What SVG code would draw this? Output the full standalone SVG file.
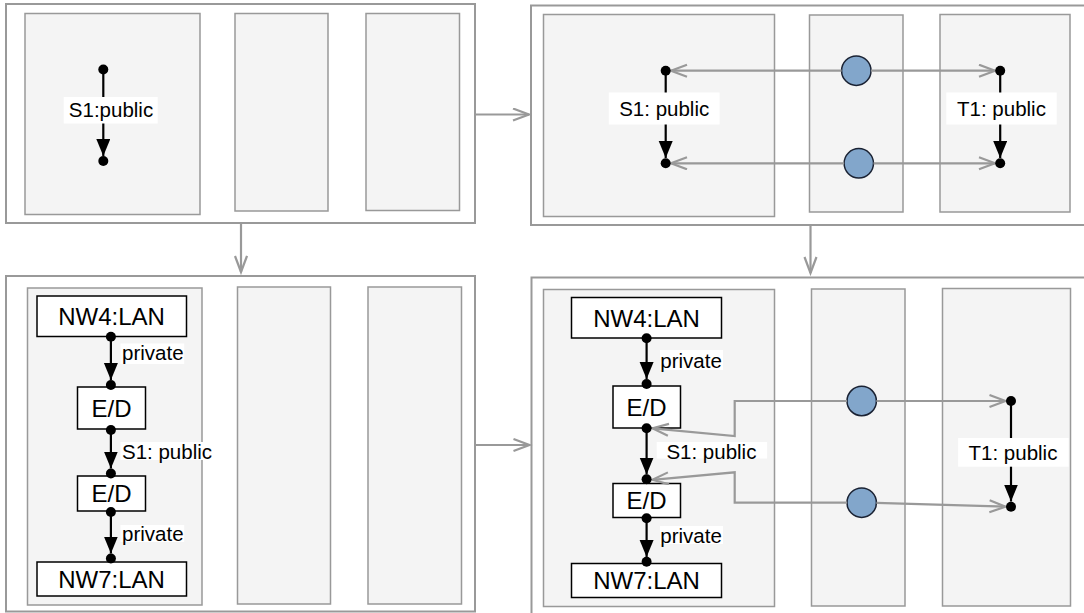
<svg xmlns="http://www.w3.org/2000/svg" width="1084" height="613" viewBox="0 0 1084 613">
<defs>
<marker id="ah" markerUnits="userSpaceOnUse" markerWidth="20" markerHeight="16" refX="17" refY="7" orient="auto"><path d="M0,0 L17,7 L0,14 z" fill="#000"/></marker>
<marker id="go" markerUnits="userSpaceOnUse" markerWidth="22" markerHeight="16" refX="17" refY="7" orient="auto"><path d="M1,1 L17,7 L1,13" fill="none" stroke="#999" stroke-width="2.2"/></marker>
</defs>
<style>
.outer{fill:#fff;stroke:#999;stroke-width:2}
.panel{fill:#f4f4f4;stroke:#999;stroke-width:1.5}
.box{fill:#fff;stroke:#000;stroke-width:1.5}
.bt{font-family:"Liberation Sans",Arial,sans-serif;font-size:24px;fill:#000;text-anchor:middle;dominant-baseline:central}
.lt{font-family:"Liberation Sans",Arial,sans-serif;font-size:20.5px;fill:#000;dominant-baseline:central}
.lbg{fill:#fff}
.bl{stroke:#000;stroke-width:2.2;fill:none;marker-end:url(#ah)}
.gl{stroke:#999;stroke-width:2.2;fill:none;marker-end:url(#go)}
.dot{fill:#000}
.circ{fill:#82a6cb;stroke:#1a2233;stroke-width:1.5}
</style>
<g id="frame-tl">
<rect class="outer" x="6" y="4" width="469" height="219"/>
<rect class="panel" x="25" y="13.5" width="175" height="201"/>
<rect class="panel" x="235" y="13.5" width="93" height="197.5"/>
<rect class="panel" x="366" y="13.5" width="93.5" height="197"/>
</g>
<g id="frame-tr">
<rect class="outer" x="531" y="5.5" width="570" height="219.5"/>
<rect class="panel" x="543.5" y="14.5" width="231" height="202"/>
<rect class="panel" x="809.5" y="15" width="93.5" height="197"/>
<rect class="panel" x="940" y="14.5" width="130" height="197.5"/>
</g>
<g id="frame-bl">
<rect class="outer" x="6" y="276" width="469" height="335.5"/>
<rect class="panel" x="27.5" y="288" width="174.5" height="317"/>
<rect class="panel" x="237.5" y="287" width="93" height="317"/>
<rect class="panel" x="368" y="287" width="93.5" height="317"/>
</g>
<g id="frame-br">
<rect class="outer" x="531.5" y="277.5" width="570" height="350"/>
<rect class="panel" x="543.5" y="289.5" width="231" height="317"/>
<rect class="panel" x="811.5" y="289" width="93.5" height="317"/>
<rect class="panel" x="942.5" y="288.5" width="128" height="317.5"/>
</g>
<g id="bl-nw4"><rect class="box" x="37" y="296" width="149.5" height="40.5"/><text class="bt" x="111.5" y="316.5">NW4:LAN</text></g>
<g id="bl-ed1"><rect class="box" x="77.5" y="387" width="68" height="42"/><text class="bt" x="111.5" y="408.5">E/D</text></g>
<g id="bl-ed2"><rect class="box" x="77.5" y="476" width="68" height="35"/><text class="bt" x="111.5" y="493.5">E/D</text></g>
<g id="bl-nw7"><rect class="box" x="37" y="562" width="149.5" height="34"/><text class="bt" x="111.5" y="579">NW7:LAN</text></g>
<g id="br-nw4"><rect class="box" x="571.5" y="297.5" width="150" height="40.5"/><text class="bt" x="646.5" y="318">NW4:LAN</text></g>
<g id="br-ed1"><rect class="box" x="613" y="386" width="67.5" height="42"/><text class="bt" x="646.5" y="407.5">E/D</text></g>
<g id="br-ed2"><rect class="box" x="613" y="483.5" width="67.5" height="34"/><text class="bt" x="646.5" y="500.5">E/D</text></g>
<g id="br-nw7"><rect class="box" x="571.5" y="563.5" width="150" height="34"/><text class="bt" x="646.5" y="580.5">NW7:LAN</text></g>
<g id="tr-c1"><circle class="circ" cx="856.3" cy="70.7" r="14.7"/></g>
<g id="tr-c2"><circle class="circ" cx="858.8" cy="163.3" r="14.7"/></g>
<g id="br-c1"><circle class="circ" cx="861.7" cy="401" r="14.7"/></g>
<g id="br-c2"><circle class="circ" cx="861.7" cy="502.7" r="14.7"/></g>
<g id="connectors">
<line class="gl" x1="475" y1="114.5" x2="529" y2="114.5"/>
<line class="gl" x1="241" y1="223" x2="241" y2="272"/>
<line class="gl" x1="810.5" y1="225" x2="810.5" y2="273"/>
<line class="gl" x1="475" y1="445" x2="529.5" y2="445"/>
<line class="bl" x1="103.3" y1="69.5" x2="103.3" y2="156"/>
<line class="bl" x1="665.7" y1="70.7" x2="665.7" y2="158"/>
<line class="bl" x1="1000.2" y1="70.7" x2="1000.2" y2="158"/>
<line class="gl" x1="841.6" y1="70.7" x2="671" y2="70.7"/>
<line class="gl" x1="871" y1="70.7" x2="995" y2="70.7"/>
<line class="gl" x1="844.1" y1="163.3" x2="671" y2="163.3"/>
<line class="gl" x1="873.5" y1="163.3" x2="995" y2="163.3"/>
<line class="bl" x1="110.9" y1="336.5" x2="110.9" y2="380"/>
<line class="bl" x1="110.9" y1="430" x2="110.9" y2="468.5"/>
<line class="bl" x1="110.9" y1="512" x2="110.9" y2="553.5"/>
<line class="bl" x1="646.6" y1="338.3" x2="646.6" y2="379"/>
<line class="bl" x1="646.6" y1="428.3" x2="646.6" y2="474.5"/>
<line class="bl" x1="646.6" y1="518.3" x2="646.6" y2="557"/>
<line class="bl" x1="1011" y1="401" x2="1011" y2="501.5"/>
<polyline class="gl" points="847,401 734.7,401 734.7,436 652.5,428.3"/>
<polyline class="gl" points="847,502.7 734.7,502.7 734.7,472.3 652.5,479.8"/>
<line class="gl" x1="876.4" y1="401" x2="1005.5" y2="401"/>
<line class="gl" x1="876.4" y1="502.9" x2="1005.5" y2="506.7"/>
</g>
<g id="dots">
<circle class="dot" cx="103.3" cy="69.5" r="5"/>
<circle class="dot" cx="103.3" cy="161" r="5"/>
<circle class="dot" cx="665.7" cy="70.7" r="5"/>
<circle class="dot" cx="665.7" cy="163.3" r="5"/>
<circle class="dot" cx="1000.2" cy="70.7" r="5"/>
<circle class="dot" cx="1000.2" cy="163.3" r="5"/>
<circle class="dot" cx="110.9" cy="336.7" r="5"/>
<circle class="dot" cx="110.9" cy="385" r="5"/>
<circle class="dot" cx="110.9" cy="430" r="5"/>
<circle class="dot" cx="110.9" cy="473.5" r="5"/>
<circle class="dot" cx="110.9" cy="512" r="5"/>
<circle class="dot" cx="110.9" cy="558.5" r="5"/>
<circle class="dot" cx="646.6" cy="338.3" r="5"/>
<circle class="dot" cx="646.6" cy="384" r="5"/>
<circle class="dot" cx="646.6" cy="428.3" r="5"/>
<circle class="dot" cx="646.6" cy="479.3" r="5"/>
<circle class="dot" cx="646.6" cy="518.3" r="5"/>
<circle class="dot" cx="646.6" cy="561.7" r="5"/>
<circle class="dot" cx="1011" cy="401" r="5"/>
<circle class="dot" cx="1011" cy="506.7" r="5"/>
</g>
<g id="labels">
<rect class="lbg" x="63.7" y="97" width="94" height="26.5"/><text class="lt" x="111" y="109.5" text-anchor="middle">S1:public</text>
<rect class="lbg" x="608.8" y="92.5" width="110.8" height="32"/><text class="lt" x="664.2" y="108.5" text-anchor="middle">S1: public</text>
<rect class="lbg" x="946.3" y="92.5" width="110.4" height="32"/><text class="lt" x="1001.5" y="108.5" text-anchor="middle">T1: public</text>
<rect class="lbg" x="120.5" y="343.5" width="63.7" height="20.5"/><text class="lt" x="122" y="352.5">private</text>
<rect class="lbg" x="120.5" y="442" width="92.3" height="18"/><text class="lt" x="122" y="451">S1: public</text>
<rect class="lbg" x="120.5" y="525" width="63.7" height="17"/><text class="lt" x="122" y="533.5">private</text>
<rect class="lbg" x="660" y="350" width="63" height="20"/><text class="lt" x="660.3" y="360.5">private</text>
<rect class="lbg" x="656.7" y="442" width="110.4" height="16.5"/><text class="lt" x="666.4" y="451.5">S1: public</text>
<rect class="lbg" x="660" y="526" width="63" height="18"/><text class="lt" x="660.3" y="535">private</text>
<rect class="lbg" x="958.1" y="438" width="110.5" height="28.7"/><text class="lt" x="1013" y="452" text-anchor="middle">T1: public</text>
</g>
</svg>
